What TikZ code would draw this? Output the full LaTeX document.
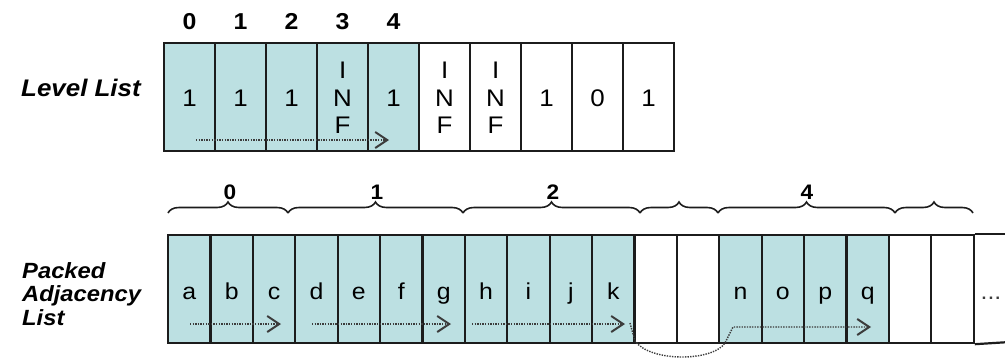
\documentclass[tikz,border=0pt]{standalone}
\usepackage{fontspec}
\setmainfont{Liberation Sans}[FakeStretch=1.08]
\usetikzlibrary{arrows.meta,decorations.pathreplacing}
\definecolor{cellfill}{RGB}{188,224,226}
\definecolor{linecol}{RGB}{28,28,28}
\definecolor{dotcol}{RGB}{60,60,60}
\begin{document}
\begin{tikzpicture}[x=1pt,y=-1pt,
  lcell/.style={draw=linecol, line width=2.2pt, minimum width=51pt, minimum height=108pt, inner sep=0pt, anchor=north west},
  pcell/.style={draw=linecol, line width=2.2pt, minimum width=42.4pt, minimum height=108pt, inner sep=0pt, anchor=north west},
  valtext/.style={inner sep=0pt, anchor=base, font=\fontsize{24}{27}\selectfont, text=black},
  lettext/.style={inner sep=0pt, anchor=base, font=\fontsize{23}{27}\selectfont, text=black},
  idxtext/.style={inner sep=0pt, anchor=base, font=\fontsize{23}{27}\selectfont\bfseries},
  bractext/.style={inner sep=0pt, anchor=base, font=\fontsize{21}{25}\selectfont\bfseries},
  sidetext/.style={inner sep=0pt, font=\bfseries\itshape},
  dotarrow/.style={draw=dotcol, line width=1.4pt, dash pattern=on 1.4pt off 1.2pt,
    -{Straight Barb[length=12pt,width=16pt,line width=2pt]}},
  bracedraw/.style={draw=linecol, line width=1.6pt, decorate, decoration={brace, amplitude=11pt}}
]
\useasboundingbox (0,0) rectangle (1005,359);
\clip (0,0) rectangle (1005,359);

% ---------------- Level list ----------------
\node[sidetext, anchor=base west, font=\fontsize{24}{27}\selectfont\bfseries\itshape] (levlab) at (21,96) {Level List};

\foreach \i in {0,...,9} {
  \pgfmathsetmacro\xx{163+51*\i}
  \ifnum\i<5 \def\fc{cellfill}\else\def\fc{white}\fi
  \node[lcell, fill=\fc] (L\i) at (\xx,42) {};
}
\coordinate (vb) at (0,106);
\coordinate (vi) at (0,78);
\coordinate (vf) at (0,133);
\coordinate (ib) at (0,29);
\foreach \i/\t in {0/1,1/1,2/1,4/1,7/1,8/0,9/1} {
  \node[valtext] (V\i) at (L\i |- vb) {\t};
}
\foreach \i in {3,5,6} {
  \node[valtext] (VI\i) at (L\i |- vi) {I};
  \node[valtext] (VN\i) at (L\i |- vb) {N};
  \node[valtext] (VF\i) at (L\i |- vf) {F};
}
\foreach \i in {0,...,4} {
  \node[idxtext] (I\i) at (L\i |- ib) {\i};
}
\coordinate (la1) at (196,140);
\coordinate (la2) at (389,140);
\draw[dotarrow] (la1) -- (la2);

% ---------------- Packed adjacency list ----------------
\node[sidetext, anchor=north west, align=left, font=\fontsize{22}{23.5}\selectfont\bfseries\itshape] (packlab) at (22,262) {Packed\\Adjacency\\List};

\foreach \i in {0,...,18} {
  \pgfmathsetmacro\xx{167+42.4*\i}
  \def\fc{white}
  \ifnum\i<11 \def\fc{cellfill}\fi
  \ifnum\i>12 \ifnum\i<17 \def\fc{cellfill}\fi\fi
  \node[pcell, fill=\fc] (P\i) at (\xx,234) {};
}
% last, open-ended cell running off the right edge
\coordinate (rt) at (1010,234);
\coordinate (rb) at (1010,342);
\draw[draw=linecol, line width=2.2pt] (P18.north east) -- (rt);
\draw[draw=linecol, line width=2.2pt] (P18.south east) -- (rb);

\coordinate (lb) at (0,299);
\foreach \i/\t in {0/a,1/b,2/c,3/d,4/e,5/f,6/g,7/h,8/i,9/j,10/k,13/n,14/o,15/p,16/q} {
  \node[lettext] (T\i) at (P\i |- lb) {\t};
}
\coordinate (db) at (991,299);
\node[lettext, text=dotcol] (T19) at (db) {...};

% braces
\coordinate (b0s) at (168,213); \coordinate (b0e) at (288,213);
\coordinate (b1s) at (288,213); \coordinate (b1e) at (463,213);
\coordinate (b2s) at (463,213); \coordinate (b2e) at (640,213);
\coordinate (b3s) at (640,213); \coordinate (b3e) at (718,213);
\coordinate (b4s) at (718,213); \coordinate (b4e) at (895,213);
\coordinate (b5s) at (895,213); \coordinate (b5e) at (973,213);
\foreach \k in {0,...,5} {
  \draw[bracedraw] (b\k s) -- (b\k e);
}
\node[bractext] (B0) at (230,199) {0};
\node[bractext] (B1) at (377,199) {1};
\node[bractext] (B2) at (553,199) {2};
\node[bractext] (B4) at (807,199) {4};

% traversal arrows
\coordinate (p1s) at (190,324); \coordinate (p1e) at (281,324);
\coordinate (p2s) at (312,324); \coordinate (p2e) at (451,324);
\coordinate (p3s) at (472,324); \coordinate (p3e) at (625,324);
\draw[dotarrow] (p1s) -- (p1e);
\draw[dotarrow] (p2s) -- (p2e);
\draw[dotarrow] (p3s) -- (p3e);
\coordinate (c3) at (630,323);
\coordinate (c4) at (635,341);
\coordinate (c5) at (725,343);
\coordinate (c6) at (733,327);
\coordinate (c7) at (871,327);
\draw[dotarrow] (c3) -- (c4) .. controls (650,362) and (712,362) .. (c5) -- (c6) -- (c7);
\end{tikzpicture}
\end{document}
